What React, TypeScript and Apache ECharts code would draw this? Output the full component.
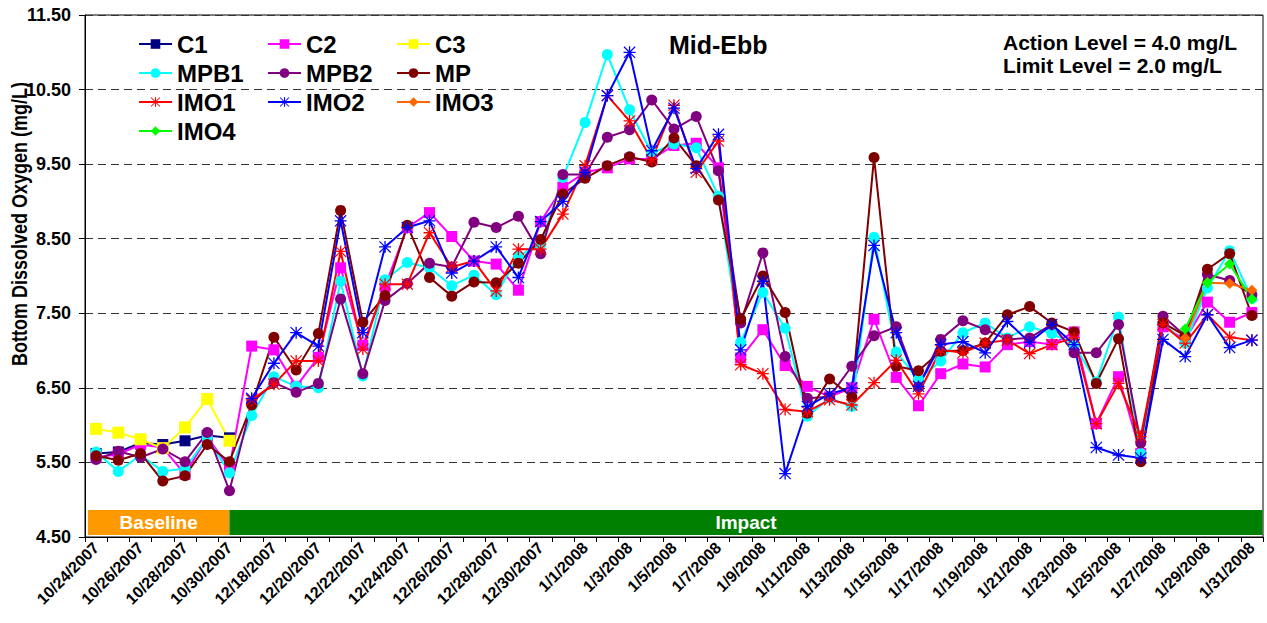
import React, { useEffect, useRef } from "react";
import * as echarts from "echarts";

const N = null;

const categories = [
  "10/24/2007", "10/25/2007", "10/26/2007", "10/27/2007", "10/28/2007", "10/29/2007", "10/30/2007",
  "12/17/2007", "12/18/2007", "12/19/2007", "12/20/2007", "12/21/2007", "12/22/2007", "12/23/2007",
  "12/24/2007", "12/25/2007", "12/26/2007", "12/27/2007", "12/28/2007", "12/29/2007", "12/30/2007",
  "12/31/2007",
  "1/1/2008", "1/2/2008", "1/3/2008", "1/4/2008", "1/5/2008", "1/6/2008", "1/7/2008", "1/8/2008",
  "1/9/2008", "1/10/2008", "1/11/2008", "1/12/2008", "1/13/2008", "1/14/2008", "1/15/2008",
  "1/16/2008", "1/17/2008", "1/18/2008", "1/19/2008", "1/20/2008", "1/21/2008", "1/22/2008",
  "1/23/2008", "1/24/2008", "1/25/2008", "1/26/2008", "1/27/2008", "1/28/2008", "1/29/2008",
  "1/30/2008", "1/31/2008",
];

const C1 = [5.62, 5.64, 5.76, 5.74, 5.79, 5.86, 5.83,
  N, N, N, N, N, N, N, N, N, N, N, N, N, N, N, N, N, N, N, N, N, N, N,
  N, N, N, N, N, N, N, N, N, N, N, N, N, N, N, N, N, N, N, N, N, N, N];

const C2 = [5.57, 5.61, 5.74, 5.70, 5.34, 5.84, 5.43,
  7.06, 7.01, 6.52, 6.91, 8.11, 7.07, 7.86, 8.65, 8.85, 8.53, 8.20, 8.16, 7.81, 8.73,
  9.19, 9.39, 9.45, 9.57, 9.57, 9.75, 9.78, 9.45, 6.90, 7.28, 6.80, 6.52, 6.38, 6.50,
  7.42, 6.64, 6.26, 6.69, 6.82, 6.78, 7.08, 7.12, 7.08, 7.25, 6.02, 6.65, 5.62, 7.32,
  7.15, 7.65, 7.38, 7.51];

const C3 = [5.95, 5.90, 5.81, 5.69, 5.97, 6.35, 5.79,
  N, N, N, N, N, N, N, N, N, N, N, N, N, N, N, N, N, N, N, N, N, N, N,
  N, N, N, N, N, N, N, N, N, N, N, N, N, N, N, N, N, N, N, N, N, N, N];

const MPB1 = [5.64, 5.38, 5.60, 5.38, 5.42, 5.83, 5.36,
  6.13, 6.65, 6.52, 6.50, 7.93, 6.66, 7.95, 8.18, 8.11, 7.87, 8.01, 7.75, 8.27, 8.42,
  9.32, 10.06, 10.97, 10.23, 9.65, 9.77, 9.72, 9.07, 7.11, 7.78, 7.30, 6.12, 6.36, 6.25,
  8.52, 6.98, 6.61, 6.86, 7.24, 7.37, 7.17, 7.32, 7.23, 7.08, 6.58, 7.45, 5.62, 7.37,
  7.10, 7.84, 8.34, 7.70];

const MPB2 = [5.54, 5.65, 5.57, 5.68, 5.51, 5.90, 5.12,
  6.30, 6.57, 6.44, 6.56, 7.69, 6.69, 7.67, 7.90, 8.17, 8.12, 8.72, 8.65, 8.80, 8.30,
  9.36, 9.36, 9.86, 9.96, 10.36, 9.97, 10.14, 9.41, 7.37, 8.31, 6.92, 6.36, 6.38, 6.79,
  7.20, 7.32, 6.51, 7.15, 7.40, 7.28, 7.15, 7.17, 7.35, 6.97, 6.97, 7.35, 5.76, 7.46,
  7.20, 8.02, 7.94, 7.75];

const MP = [5.59, 5.53, 5.62, 5.25, 5.32, 5.74, 5.51,
  6.27, 7.18, 6.74, 7.23, 8.88, 7.38, 7.74, 8.68, 7.98, 7.73, 7.92, 7.91, 8.17, 8.49,
  9.10, 9.31, 9.48, 9.60, 9.53, 9.85, 9.48, 9.02, 7.42, 8.00, 7.51, 6.16, 6.62, 6.38,
  9.59, 6.79, 6.73, 6.99, 7.00, 7.10, 7.48, 7.59, 7.37, 7.25, 6.56, 7.16, 5.51, 7.37,
  7.20, 8.09, 8.30, 7.47];

const IMO1 = [N, N, N, N, N, N, N,
  6.34, 6.55, 6.86, 6.86, 8.33, 7.02, 7.89, 7.89, 8.58, 8.12, 8.20, 7.80, 8.36, 8.36,
  8.83, 9.48, 10.42, 10.08, 9.56, 10.29, 9.39, 9.81, 6.81, 6.69, 6.21, 6.18, 6.34, 6.27,
  6.57, 6.87, 6.42, 7.01, 6.97, 7.10, 7.14, 6.96, 7.08, 7.17, 6.02, 6.56, 5.85, 7.35,
  7.10, 7.48, 7.18, 7.14];

const IMO2 = [N, N, N, N, N, N, N,
  6.36, 6.83, 7.24, 7.06, 8.74, 7.24, 8.39, 8.65, 8.74, 8.04, 8.20, 8.39, 7.98, 8.73,
  9.00, 9.39, 10.42, 11.00, 9.68, 10.25, 9.44, 9.90, 7.01, 7.93, 5.35, 6.25, 6.42, 6.50,
  8.41, 7.24, 6.52, 7.08, 7.12, 6.97, 7.39, 7.11, 7.35, 7.08, 5.70, 5.60, 5.56, 7.15,
  6.92, 7.48, 7.04, 7.14];

const IMO3 = [N, N, N, N, N, N, N, N, N, N, N, N, N, N, N, N, N, N, N, N, N, N, N, N, N,
  N, N, N, N, N, N, N, N, N, N, N, N, N, N, N, N, N, N, N, N, N, N, N, N,
  7.17, 7.91, 7.90, 7.81];

const IMO4 = [N, N, N, N, N, N, N, N, N, N, N, N, N, N, N, N, N, N, N, N, N, N, N, N, N,
  N, N, N, N, N, N, N, N, N, N, N, N, N, N, N, N, N, N, N, N, N, N, N, N,
  7.29, 7.91, 8.16, 7.69];

const phaseNames = ["Baseline", "Impact"];
const phaseStart = [0, 6];
const phaseEnd = [6, 52];
const phaseColors = ["#FF9900", "#008000"];

const FONT = "Liberation Sans, Arial, sans-serif";
const ASTERISK =
  "path://M8.9,0L11.1,0L11.1,20L8.9,20Z M0,8.9L20,8.9L20,11.1L0,11.1Z M0,1.4L1.4,0L20,18.6L18.6,20Z M18.6,0L20,1.4L1.4,20L0,18.6Z";

function lineSeries(name: string, data: (number | null)[], color: string, symbol: string, size: number) {
  return {
    name,
    type: "line",
    data,
    symbol,
    symbolSize: size,
    showSymbol: true,
    connectNulls: false,
    lineStyle: { color, width: 2 },
    itemStyle: { color, borderWidth: 0 },
    emphasis: { disabled: true },
  };
}

export default function App() {
  const ref = useRef<HTMLDivElement>(null);
  useEffect(() => {
    if (!ref.current) return;
    const chart = echarts.init(ref.current, undefined, { renderer: "svg" });
    const legendCommon = {
      orient: "vertical",
      top: 32,
      padding: 0,
      itemWidth: 33,
      itemHeight: 12,
      itemGap: 5,
      selectedMode: false,
      textStyle: { fontSize: 24, fontWeight: "bold", fontFamily: FONT, color: "#000", lineHeight: 24 },
    };
    const phaseData = phaseNames.map((n, i) => [phaseStart[i], phaseEnd[i], n]);
    chart.setOption({
      animation: false,
      backgroundColor: "#fff",
      textStyle: { fontFamily: FONT },
      title: {
        text: "Mid-Ebb",
        left: 669,
        top: 32,
        padding: 0,
        textStyle: { fontSize: 25, fontWeight: "bold", fontFamily: FONT, color: "#000" },
      },
      legend: [
        { ...legendCommon, left: 138, data: ["C1", "MPB1", "IMO1", "IMO4"] },
        { ...legendCommon, left: 267, data: ["C2", "MPB2", "IMO2"] },
        { ...legendCommon, left: 396, data: ["C3", "MP", "IMO3"] },
      ],
      grid: {
        left: 85,
        right: 4,
        top: 15,
        bottom: 86,
        show: true,
        borderColor: "#000",
        borderWidth: 1,
        backgroundColor: "transparent",
      },
      xAxis: {
        type: "category",
        data: categories,
        boundaryGap: true,
        axisLine: { lineStyle: { color: "#000", width: 1 } },
        axisTick: { show: true, interval: 0, length: 5, lineStyle: { color: "#000" } },
        axisLabel: {
          interval: 1,
          rotate: 45,
          margin: 8,
          fontSize: 16,
          fontWeight: "bold",
          fontFamily: FONT,
          color: "#000",
        },
        splitLine: { show: false },
      },
      yAxis: {
        type: "value",
        min: 4.5,
        max: 11.5,
        interval: 1,
        axisLine: { show: true, lineStyle: { color: "#000", width: 1 } },
        axisTick: { show: true, length: 6, lineStyle: { color: "#000" } },
        axisLabel: {
          margin: 14,
          fontSize: 18,
          fontWeight: "bold",
          fontFamily: FONT,
          color: "#000",
          formatter: (v: number) => v.toFixed(2),
        },
        splitLine: { show: true, lineStyle: { color: "#333", type: [8, 5], width: 1 } },
      },
      graphic: [
        {
          type: "text",
          x: 19,
          y: 224,
          rotation: Math.PI / 2,
          scaleY: 1.2,
          style: {
            text: "Bottom Dissolved Oxygen (mg/L)",
            align: "center",
            verticalAlign: "middle",
            fill: "#000",
            font: `bold 18px ${FONT}`,
          },
        },
        {
          type: "text",
          x: 1003,
          y: 42,
          style: { text: "Action Level = 4.0 mg/L", verticalAlign: "middle", fill: "#000", font: `bold 21px ${FONT}` },
        },
        {
          type: "text",
          x: 1003,
          y: 65,
          style: { text: "Limit Level = 2.0 mg/L", verticalAlign: "middle", fill: "#000", font: `bold 21px ${FONT}` },
        },
      ],
      series: [
        lineSeries("C1", C1, "#000080", "rect", 11),
        lineSeries("C2", C2, "#FF00FF", "rect", 11),
        lineSeries("C3", C3, "#FFFF00", "rect", 12),
        lineSeries("MPB1", MPB1, "#00FFFF", "circle", 11),
        lineSeries("MPB2", MPB2, "#800080", "circle", 11),
        lineSeries("MP", MP, "#800000", "circle", 11),
        lineSeries("IMO1", IMO1, "#FF0000", ASTERISK, 12),
        lineSeries("IMO2", IMO2, "#0000FF", ASTERISK, 12),
        lineSeries("IMO3", IMO3, "#FF6600", "diamond", 11),
        lineSeries("IMO4", IMO4, "#00FF00", "diamond", 11),
        {
          name: "phases",
          type: "custom",
          data: phaseData,
          encode: { x: [0, 1] },
          silent: true,
          clip: false,
          z: 1,
          renderItem: (params: any, api: any) => {
            const s = api.value(0);
            const e = api.value(1);
            const band = api.size([1, 0])[0];
            const lo = api.coord([s, 4.527]);
            const hi = api.coord([e, 4.862]);
            let x0 = lo[0];
            let x1 = hi[0];
            if (params.dataIndex === 0) x0 -= band * 0.37;
            else x1 += band * 0.48;
            const idx = params.dataIndex;
            return {
              type: "group",
              children: [
                {
                  type: "rect",
                  shape: { x: x0, y: hi[1], width: x1 - x0, height: lo[1] - hi[1] },
                  style: { fill: phaseColors[idx] },
                },
                {
                  type: "text",
                  style: {
                    text: phaseNames[idx],
                    x: (x0 + x1) / 2,
                    y: (lo[1] + hi[1]) / 2,
                    align: "center",
                    verticalAlign: "middle",
                    fill: "#fff",
                    font: `bold 19px ${FONT}`,
                  },
                },
              ],
            };
          },
        },
      ],
    });
    return () => chart.dispose();
  }, []);
  return (
    <div
      ref={ref}
      style={{ position: "fixed", left: 0, top: 0, width: 1267, height: 623, background: "#fff" }}
    />
  );
}
